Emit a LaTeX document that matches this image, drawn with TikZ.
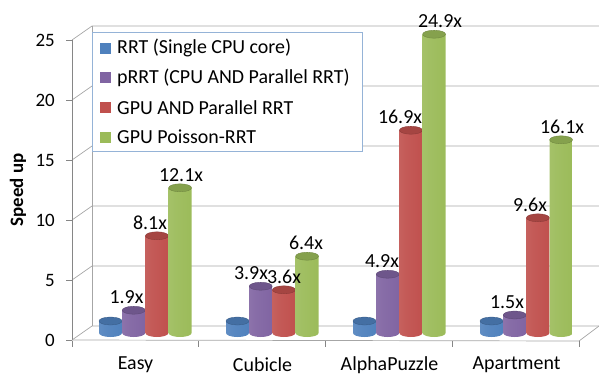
\documentclass[tikz,border=0pt]{standalone}
\usepackage{fontspec}
\setmainfont{Carlito}
\definecolor{rrtblue}{HTML}{4F81BD}
\definecolor{prrtpurple}{HTML}{8064A2}
\definecolor{gpured}{HTML}{C0504D}
\definecolor{poissongreen}{HTML}{9BBB59}
\definecolor{gridgray}{HTML}{A6A6A6}
\definecolor{axisgray}{HTML}{868686}
\definecolor{legendblue}{HTML}{95B3D7}
\colorlet{barcol}{rrtblue}
\pgfdeclarehorizontalshading[barcol]{barshade}{100bp}{%
  color(0bp)=(barcol!78!black); color(16bp)=(barcol!88!white);
  color(38bp)=(barcol!94!white); color(78bp)=(barcol); color(100bp)=(barcol!72!black)}
\newcommand\speedbar[3]{%
  \colorlet{barcol}{#3}
  \shade[shading=barshade]
    (#1-11.5,{44+12*#2}) -- (#1-11.5,44)
    arc[start angle=180, end angle=360, x radius=11.5, y radius=4]
    -- (#1+11.5,{44+12*#2}) -- cycle;
  \filldraw[fill=#3!86!black, draw=#3!70!black, line width=0.3pt]
    (#1,{44+12*#2}) ellipse[x radius=11.5, y radius=4];
}
\tikzset{
  grid line/.style={gridgray, line width=0.7pt},
  axis line/.style={axisgray, line width=0.8pt},
  value label/.style={font=\fontsize{20}{20}\selectfont, inner sep=0pt},
  tick label/.style={font=\fontsize{19}{19}\selectfont, inner sep=0pt},
  legend key/.style={minimum size=11bp, inner sep=0pt},
  legend text/.style={font=\fontsize{20}{20}\selectfont, anchor=west, inner sep=0pt}
}
\begin{document}
\begin{tikzpicture}[x=1bp, y=1bp]
  \useasboundingbox (0,0) rectangle (599,377);
  \foreach \v in {0,5,...,25} {
    \draw[grid line] (72,{37+12*\v}) -- (92,{51+12*\v}) -- (599,{51+12*\v});
    \draw[axis line] (66,{37+12*\v}) -- (72,{37+12*\v});
    \node[tick label, anchor=east] (t\v) at (55,{37+12*\v}) {\v};
  }
  \draw[grid line] (92,51) -- (92,351);
  \draw[axis line] (72,37) -- (72,337);
  \draw[grid line] (72,37) -- (579,36) -- (599,51);
  \foreach \i in {0,...,4}
    \draw[axis line] ({72+126.75*\i},36) -- ({72+126.75*\i},30);
  \foreach \i/\cat in {0/Easy,1/Cubicle,2/AlphaPuzzle,3/Apartment}
    \node[font=\fontsize{20}{20}\selectfont, inner sep=0pt] (cat\i) at ({135.5+127*\i},12) {\cat};
  \node[font=\bfseries\fontsize{19}{19}\selectfont, rotate=90, inner sep=0pt] (ylab) at (18,187) {Speed up};
  \foreach \i/\a/\b/\c in {0/1.9/8.1/12.1, 1/3.9/3.6/6.4, 2/4.9/16.9/24.9, 3/1.5/9.6/16.1} {
    \speedbar{110.5+127*\i}{1}{rrtblue}
    \speedbar{133.7+127*\i}{\a}{prrtpurple}
    \speedbar{156.9+127*\i}{\b}{gpured}
    \speedbar{180.1+127*\i}{\c}{poissongreen}
  }
  \foreach \n/\x/\v in {a/126.5/1.9, b/150/8.1, c/181/12.1, d/251/3.9, e/284/3.6, f/306/6.4,
                        g/382/4.9, h/400/16.9, k/440/24.9, l/507/1.5, m/530/9.6, n/562/16.1}
    \node[value label] (lab\n) at (\x,{57+12*\v}) {\v x};
  \draw[legendblue, fill=white, line width=0.8pt] (92,345) rectangle (362,226);
  \foreach \k/\col/\txt in {0/rrtblue/RRT (Single CPU core), 1/prrtpurple/pRRT (CPU AND Parallel RRT),
                            2/gpured/GPU AND Parallel RRT, 3/poissongreen/GPU Poisson-RRT} {
    \node[legend key, fill=\col] (key\k) at (105.5,{329-29.7*\k}) {};
    \node[legend text] (entry\k) at (117,{329-29.7*\k}) {\txt};
  }
\end{tikzpicture}
\end{document}
